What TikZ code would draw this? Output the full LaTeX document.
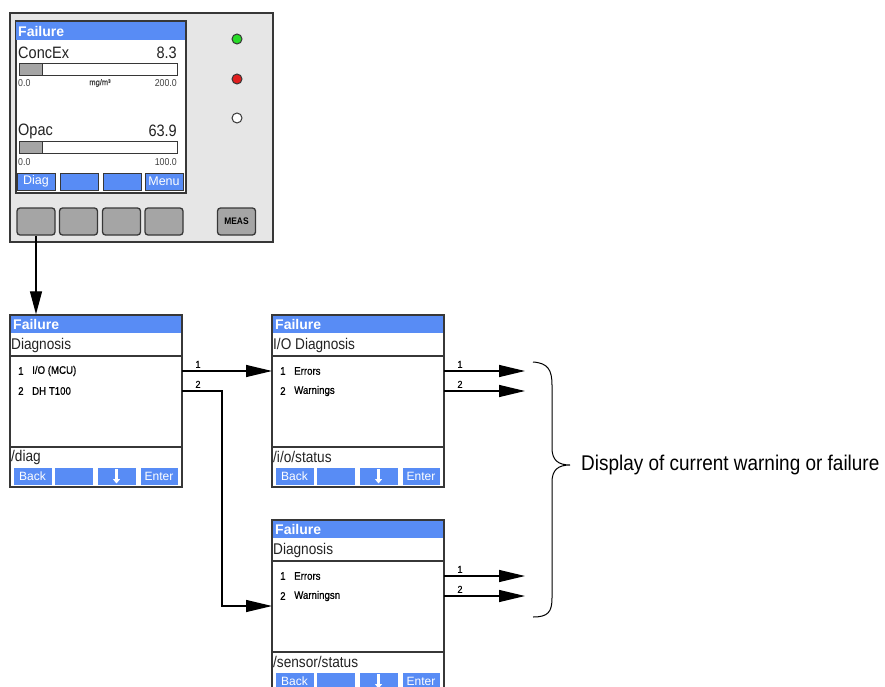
\documentclass[tikz,border=0pt]{standalone}
\usepackage{fontspec}
\setmainfont{Liberation Sans}
\newfontfamily\narrowfont[FakeStretch=0.89]{Liberation Sans}
\newfontfamily\scrfont[FakeStretch=0.88]{Liberation Sans}
\newfontfamily\itemfont[FakeStretch=0.88,FakeBold=0.6]{Liberation Sans}
\usetikzlibrary{arrows.meta}
\definecolor{scrblue}{RGB}{88,140,245}
\definecolor{panelgray}{RGB}{230,230,230}
\definecolor{btngray}{RGB}{165,165,165}
\definecolor{edgegray}{RGB}{55,55,55}
\definecolor{ledgreen}{RGB}{40,220,40}
\definecolor{ledred}{RGB}{225,30,30}
\definecolor{txtdark}{RGB}{35,35,35}
\newcommand{\fs}[1]{\fontsize{#1}{#1}\selectfont}
\tikzset{
  boxframe/.style={draw=edgegray, line width=1.4pt, inner sep=0pt},
  divider/.style={draw=edgegray, line width=1.6pt},
  titletxt/.style={text=white, font=\fs{14}\bfseries, inner sep=0pt, anchor=west},
  hdrtxt/.style={text=txtdark, font=\scrfont\fs{15.5}, inner sep=0pt, anchor=west},
  itemtxt/.style={text=black, font=\itemfont\fs{11}, inner sep=0pt, anchor=west},
  softkey/.style={fill=scrblue, draw=white, line width=0.6pt, text=white, font=\fs{12}, inner sep=0pt, minimum height=18pt},
  conn/.style={draw=black, line width=1.3pt},
  bigtip/.style={-{Triangle[length=26pt,width=12pt]}},
  numlbl/.style={font=\itemfont\fs{10}, inner sep=0pt, anchor=south},
  hwbtn/.style={draw=edgegray, fill=btngray, line width=1.3pt, rounded corners=3pt, minimum width=38pt, minimum height=27pt, inner sep=0pt},
  led/.style={circle, draw=edgegray, line width=1pt, minimum size=10pt, inner sep=0pt},
  smalltxt/.style={font=\scrfont\fs{10}, inner sep=0pt, text=black!75},
  keyarrow/.style={white, line width=2.6pt, -{Triangle[length=4.5pt,width=7pt]}},
}
% #1 name, #2 x, #3 y, #4 header, #5 item1, #6 item2, #7 path
\newcommand{\menubox}[7]{%
\begin{scope}[shift={(#2,#3)}]
  \fill[white] (0,0) rectangle (172,172);
  \fill[scrblue] (0,0) rectangle (172,18);
  \node[titletxt] (#1-t) at (3,9.5) {Failure};
  \node[hdrtxt] (#1-h) at (1,30) {#4};
  \draw[divider] (0,41) -- (172,41);
  \node[itemtxt] (#1-n1) at (8,56) {1};
  \node[itemtxt] (#1-i1) at (22,56) {#5};
  \node[itemtxt] (#1-n2) at (8,76) {2};
  \node[itemtxt] (#1-i2) at (22,76) {#6};
  \draw[divider] (0,132) -- (172,132);
  \node[hdrtxt] (#1-p) at (1,142) {#7};
  \node[softkey, minimum width=39pt] (#1-k1) at (22.5,161) {Back};
  \node[softkey, minimum width=39pt] (#1-k2) at (63.5,161) {};
  \node[softkey, minimum width=39pt] (#1-k3) at (106.5,161) {};
  \node[softkey, minimum width=38pt] (#1-k4) at (149,161) {Enter};
  \draw[keyarrow] (#1-k3.north |- 0,154) -- (#1-k3.south |- 0,168.5);
  \node[boxframe, minimum width=172pt, minimum height=172pt] (#1) at (86,86) {};
  \coordinate (#1-o1) at (172,56);
  \coordinate (#1-o2) at (172,76);
  \coordinate (#1-ia) at (0,56);
  \coordinate (#1-ib) at (0,86);
\end{scope}}
\begin{document}
\begin{tikzpicture}[x=1pt,y=-1pt]
\useasboundingbox (0,0) rectangle (885,687);
\clip (0,0) rectangle (885,687);
\fill[white] (0,0) rectangle (885,687);
% ---------- device ----------
\node[draw=edgegray, fill=panelgray, line width=1.5pt, minimum width=263pt, minimum height=229pt, inner sep=0pt] (dev) at (141.5,127.5) {};
\node[draw=edgegray, fill=white, line width=1.5pt, minimum width=170pt, minimum height=172pt, inner sep=0pt] (scr) at (101,107) {};
\fill[scrblue] (16.3,21.8) rectangle (185.2,40.5);
\node[titletxt] (dtitle) at (18,31) {Failure};
\node[hdrtxt, font=\scrfont\fs{16.5}] (c1n) at (18,53) {ConcEx};
\node[hdrtxt, font=\scrfont\fs{16.5}, anchor=east] (c1v) at (177,53) {8.3};
\node[draw=edgegray, fill=white, line width=1pt, minimum width=158pt, minimum height=12pt, inner sep=0pt] (bar1) at (98,69.5) {};
\fill[btngray] (19.5,64) rectangle (42,75);
\draw[edgegray, line width=1pt] (42,64) -- (42,75);
\node[smalltxt, anchor=west] (c1a) at (18,83) {0.0};
\node[smalltxt, font=\itemfont\fs{8.5}] (c1u) at (100,83) {mg/m³};
\node[smalltxt, anchor=east] (c1b) at (177,83) {200.0};
\node[hdrtxt, font=\scrfont\fs{16.5}] (c2n) at (18,131) {Opac};
\node[hdrtxt, font=\scrfont\fs{16.5}, anchor=east] (c2v) at (177,131) {63.9};
\node[draw=edgegray, fill=white, line width=1pt, minimum width=158pt, minimum height=12pt, inner sep=0pt] (bar2) at (98,148) {};
\fill[btngray] (19.5,142.5) rectangle (42,153.5);
\draw[edgegray, line width=1pt] (42,142.5) -- (42,153.5);
\node[smalltxt, anchor=west] (c2a) at (18,162.5) {0.0};
\node[smalltxt, anchor=east] (c2b) at (177,162.5) {100.0};
\node[softkey, draw=edgegray, minimum width=38pt, minimum height=17pt, font=\fs{12.5}] (sk1) at (36,181.5) {Diag};
\node[softkey, draw=edgegray, minimum width=38pt, minimum height=17pt] (sk2) at (79,181.5) {};
\node[softkey, draw=edgegray, minimum width=38pt, minimum height=17pt] (sk3) at (122,181.5) {};
\node[softkey, draw=edgegray, minimum width=38pt, minimum height=17pt, font=\fs{12.5}] (sk4) at (164,181.5) {Menu};
\node[hwbtn] (hb1) at (36,221.5) {};
\node[hwbtn] (hb2) at (78.5,221.5) {};
\node[hwbtn] (hb3) at (121.5,221.5) {};
\node[hwbtn] (hb4) at (164,221.5) {};
\node[hwbtn, font=\narrowfont\fs{9.5}\bfseries] (meas) at (236.5,221.5) {MEAS};
\node[led, fill=ledgreen] (led1) at (237,39) {};
\node[led, fill=ledred] (led2) at (237,79) {};
\node[led, fill=white] (led3) at (237,118) {};
% ---------- menu boxes ----------
\menubox{b1}{10}{315}{Diagnosis}{I/O (MCU)}{DH T100}{/diag}
\menubox{b2}{272}{315}{I/O Diagnosis}{Errors}{Warnings}{/i/o/status}
\menubox{b3}{272}{520}{Diagnosis}{Errors}{Warningsn}{/sensor/status}
% ---------- connectors ----------
\draw[conn, -{Triangle[length=23pt,width=12pt]}] (hb1.south) -- (hb1.south |- b1.north);
\draw[conn, bigtip] (b1-o1) -- (b2-ia);
\coordinate (bend1) at (222,391);
\coordinate (bend2) at (222,606);
\draw[conn, bigtip] (b1-o2) -- (bend1) -- (bend2) -- (b3-ib);
\node[numlbl] (l11) at (198,368) {1};
\node[numlbl] (l12) at (198,388) {2};
\coordinate (e1) at (525,371);
\coordinate (e2) at (525,391);
\coordinate (e3) at (525,576);
\coordinate (e4) at (525,596);
\draw[conn, bigtip] (b2-o1) -- (e1);
\draw[conn, bigtip] (b2-o2) -- (e2);
\draw[conn, bigtip] (b3-o1) -- (e3);
\draw[conn, bigtip] (b3-o2) -- (e4);
\node[numlbl] (l21) at (460,368) {1};
\node[numlbl] (l22) at (460,388) {2};
\node[numlbl] (l31) at (460,573) {1};
\node[numlbl] (l32) at (460,593) {2};
% ---------- brace ----------
\coordinate (brtop) at (533,362);
\coordinate (brtip) at (570,465);
\coordinate (brbot) at (533,617);
\draw[black, line width=1pt] (brtop) .. controls (548,363) and (552,370) .. (552,385) -- (552,448)
  .. controls (552,460) and (558,465) .. (brtip)
  .. controls (558,465) and (552,470) .. (552,482) -- (552,598)
  .. controls (552,612) and (548,617) .. (brbot);
\node[font=\narrowfont\fs{21.3}, anchor=west, inner sep=0pt] (lbl) at (581,465) {Display of current warning or failure};
\end{tikzpicture}
\end{document}
